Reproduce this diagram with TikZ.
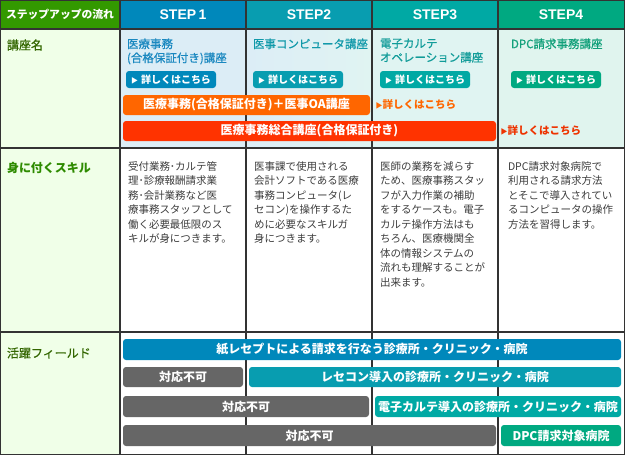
\documentclass[tikz,border=0pt]{standalone}
\usepackage{fontspec}
\setmainfont{Noto Sans CJK JP}
\newfontfamily\semibold[FakeBold=0.6]{Noto Sans CJK JP}
\newfontfamily\latinfont{Liberation Sans}
\definecolor{hdrgreen}{HTML}{339900}
\definecolor{sone}{HTML}{0088BB}
\definecolor{stwo}{HTML}{089DB0}
\definecolor{sthree}{HTML}{00A9A4}
\definecolor{sfour}{HTML}{00A981}
\definecolor{bgone}{HTML}{DCEDF6}
\definecolor{bgtwo}{HTML}{E1F1F5}
\definecolor{bgthree}{HTML}{E0F4F2}
\definecolor{bgfour}{HTML}{E0F4EE}
\definecolor{leftbg}{HTML}{F0FFE8}
\definecolor{bordergray}{HTML}{333333}
\definecolor{textgray}{HTML}{3C3C3C}
\definecolor{labgreen}{HTML}{336600}
\definecolor{labgreenb}{HTML}{2E8B00}
\definecolor{orangebar}{HTML}{FF6600}
\definecolor{redbar}{HTML}{FF3300}
\definecolor{linkred}{HTML}{EE3300}
\definecolor{graybar}{HTML}{666666}
\definecolor{cone}{HTML}{1A88C0}
\definecolor{ctwo}{HTML}{1199AA}
\definecolor{cthree}{HTML}{119C99}
\definecolor{cfour}{HTML}{11A07A}
\begin{document}
\begin{tikzpicture}[x=1pt,y=-1pt,
  every node/.style={inner sep=0pt, outer sep=0pt},
  gridline/.style={draw=bordergray, line width=1.2pt},
  bar/.style={rounded corners=3pt, text=white, anchor=west, minimum height=20pt,
    font=\bfseries\fontsize{12}{12}\selectfont},
  btn/.style={rounded corners=3pt, text=white, anchor=west, minimum width=90pt, minimum height=17pt,
    font=\bfseries\fontsize{10}{10}\selectfont},
  skill/.style={anchor=north west, align=left, text=textgray, font=\fontsize{10.5}{14.5}\selectfont},
  course/.style={anchor=north west, align=left, font=\semibold\fontsize{11.5}{14}\selectfont},
  rowlabel/.style={anchor=west, text=labgreen, font=\semibold\fontsize{12}{12}\selectfont},
  steplabel/.style={text=white, font=\latinfont\bfseries\fontsize{14}{14}\selectfont},
  linktext/.style={anchor=west, font=\bfseries\fontsize{10.5}{10.5}\selectfont}
]
\useasboundingbox (0,0) rectangle (625,455);
% backgrounds
\fill[leftbg] (0,29) rectangle (120,455);
\fill[hdrgreen] (0,0) rectangle (120,29);
\fill[sone] (120,0) rectangle (246,29);
\fill[stwo] (246,0) rectangle (372,29);
\fill[sthree] (372,0) rectangle (498,29);
\fill[sfour] (498,0) rectangle (625,29);
\fill[bgone] (120,29) rectangle (246,148);
\shade[left color=bgone, right color=bgthree] (246,29) rectangle (372,148);
\fill[bgthree] (372,29) rectangle (498,148);
\fill[bgfour] (498,29) rectangle (625,148);
% grid
\draw[gridline] (0,29) -- (625,29);
\draw[gridline] (0,148) -- (625,148);
\draw[gridline] (0,332) -- (625,332);
\foreach \xx in {120,246,372,498} \draw[gridline] (\xx,0) -- (\xx,455);
\draw[gridline] (0.6,0.6) rectangle (624.4,454.4);
% header
\node[anchor=west, text=white, font=\bfseries\fontsize{10.8}{10.8}\selectfont] (h0) at (6,14.5) {ステップアップの流れ};
\node[steplabel] (h1) at (183,14.5) {STEP\,1};
\node[steplabel] (h2) at (309,14.5) {STEP2};
\node[steplabel] (h3) at (435,14.5) {STEP3};
\node[steplabel] (h4) at (561,14.5) {STEP4};
% row 1
\node[rowlabel] (l1) at (7,45) {講座名};
\node[course, text=cone] (c1) at (127,38.5) {医療事務\\(合格保証付き)講座};
\node[course, text=ctwo] (c2) at (253,38.5) {医事コンピュータ講座};
\node[course, text=cthree] (c3) at (380,38.5) {電子カルテ\\オペレーション講座};
\node[course, text=cfour] (c4) at (511,38.5) {DPC請求事務講座};
\node[btn, fill=sone] (k1) at (126,79.5) {{\fontsize{7}{7}\selectfont▶}\hspace{3pt}詳しくはこちら};
\node[btn, fill=stwo] (k2) at (253,79.5) {{\fontsize{7}{7}\selectfont▶}\hspace{3pt}詳しくはこちら};
\node[btn, fill=sthree] (k3) at (380,79.5) {{\fontsize{7}{7}\selectfont▶}\hspace{3pt}詳しくはこちら};
\node[btn, fill=sfour] (k4) at (511,79.5) {{\fontsize{7}{7}\selectfont▶}\hspace{3pt}詳しくはこちら};
\node[bar, fill=orangebar, minimum width=247pt] (ob) at (123,105) {医療事務(合格保証付き)＋医事OA講座};
\node[linktext, text=orangebar] (ol) at (375.5,105) {{\fontsize{7}{7}\selectfont▶}詳しくはこちら};
\node[bar, fill=redbar, minimum width=373pt] (rb) at (123,131) {医療事務総合講座(合格保証付き)};
\node[linktext, text=linkred] (rl) at (500.5,131) {{\fontsize{7}{7}\selectfont▶}詳しくはこちら};
% row 2
\node[rowlabel, text=labgreenb, font=\bfseries\fontsize{12}{12}\selectfont] (l2) at (7,168) {身に付くスキル};
\node[skill] (t1) at (128,161.5) {受付業務･カルテ管\\理･診療報酬請求業\\務･会計業務など医\\療事務スタッフとして\\働く必要最低限のス\\キルが身につきます。};
\node[skill] (t2) at (254,161.5) {医事課で使用される\\会計ソフトである医療\\事務コンピュータ(レ\\セコン)を操作するた\\めに必要なスキルガ\\身につきます。};
\node[skill] (t3) at (380,161.5) {医師の業務を減らす\\ため、医療事務スタッ\\フが入力作業の補助\\をするケースも。電子\\カルテ操作方法はも\\ちろん、医療機関全\\体の情報システムの\\流れも理解することが\\出来ます。};
\node[skill] (t4) at (508,161.5) {DPC請求対象病院で\\利用される請求方法\\とそこで導入されてい\\るコンピュータの操作\\方法を習得します。};
% row 3
\node[rowlabel] (l3) at (7,353) {活躍フィールド};
\node[bar, fill=sone, minimum width=498pt, minimum height=21pt] (f1) at (123,349.5) {紙レセプトによる請求を行なう診療所・クリニック・病院};
\node[bar, fill=graybar, minimum width=120pt] (g1) at (123,377) {対応不可};
\node[bar, fill=stwo, minimum width=372pt] (f2) at (249,377) {レセコン導入の診療所・クリニック・病院};
\node[bar, fill=graybar, minimum width=246pt, minimum height=21pt] (g2) at (123,406.5) {対応不可};
\node[bar, fill=sthree, minimum width=246pt, minimum height=21pt] (f3) at (375,406.5) {電子カルテ導入の診療所・クリニック・病院};
\node[bar, fill=graybar, minimum width=373pt, minimum height=21pt] (g3) at (123,435.5) {対応不可};
\node[bar, fill=sfour, minimum width=120pt, minimum height=21pt] (f4) at (501,435.5) {DPC請求対象病院};
\end{tikzpicture}
\end{document}
